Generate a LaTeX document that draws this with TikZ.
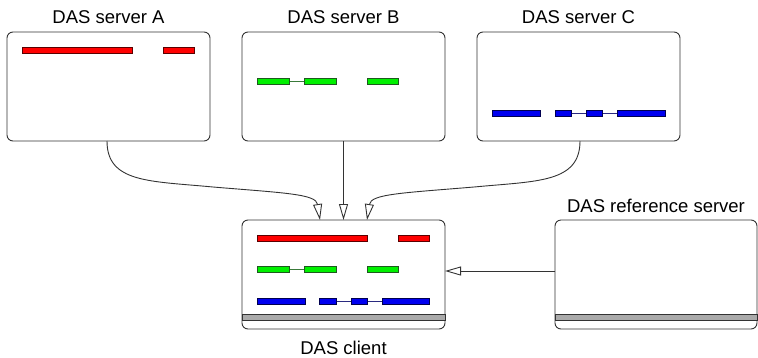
\documentclass[tikz,border=0pt]{standalone}
\usepackage{fontspec}
\setmainfont{Liberation Sans}
\usetikzlibrary{arrows.meta}
\definecolor{edge}{HTML}{333333}
\definecolor{redfill}{HTML}{FF0000}
\definecolor{reddraw}{HTML}{5A0000}
\definecolor{greenfill}{HTML}{00F000}
\definecolor{greendraw}{HTML}{1E5A1E}
\definecolor{greenlink}{HTML}{3A7A3A}
\definecolor{bluefill}{HTML}{0000F0}
\definecolor{bluedraw}{HTML}{000050}
\definecolor{bluelink}{HTML}{2A2A80}
\definecolor{bandfill}{HTML}{AAAAAA}
\tikzset{
  panel/.style={draw=edge, line width=0.9pt, rounded corners=6pt, fill=white,
    minimum width=203pt, minimum height=109pt, inner sep=0pt, outer sep=0pt},
  caption/.style={anchor=base, inner sep=0pt, font=\fontsize{18.5}{22}\selectfont},
  redbar/.style={draw=reddraw, fill=redfill, line width=0.8pt},
  greenbar/.style={draw=greendraw, fill=greenfill, line width=0.8pt},
  bluebar/.style={draw=bluedraw, fill=bluefill, line width=0.8pt},
  greenjoin/.style={draw=greenlink, line width=1pt},
  bluejoin/.style={draw=bluelink, line width=1pt},
  band/.style={draw=edge, fill=bandfill, line width=0.9pt},
  feed/.style={draw=edge, line width=0.9pt,
    -{Triangle[open, length=16pt, width=9pt, fill=white]}},
}
\begin{document}
\begin{tikzpicture}[x=1pt, y=-1pt]
  \useasboundingbox (0,0) rectangle (758,357);

  % panels
  \node[panel] (srvA) at (108.5,86.5) {};
  \node[panel] (srvB) at (343.5,86.5) {};
  \node[panel] (srvC) at (578.5,86.5) {};
  \node[panel] (client) at (343.5,274.5) {};
  \node[panel, minimum width=202pt] (refsrv) at (656,274.5) {};

  % captions
  \node[caption] (capA) at (108.5,23) {DAS server A};
  \node[caption] (capB) at (343.5,23) {DAS server B};
  \node[caption] (capC) at (578.5,23) {DAS server C};
  \node[caption] (capRef) at (656,212) {DAS reference server};
  \node[caption] (capClient) at (343.5,354) {DAS client};

  % server A track
  \draw[redbar] (22,47) rectangle (132,53);
  \draw[redbar] (163,47) rectangle (194,53);

  % server B track
  \draw[greenjoin] (289,81) -- (304,81);
  \draw[greenbar] (257,78) rectangle (289,84);
  \draw[greenbar] (304,78) rectangle (336,84);
  \draw[greenbar] (367,78) rectangle (398,84);

  % server C track
  \draw[bluejoin] (571,113) -- (617,113);
  \draw[bluebar] (492,110) rectangle (540,116);
  \draw[bluebar] (555,110) rectangle (571,116);
  \draw[bluebar] (586,110) rectangle (602,116);
  \draw[bluebar] (617,110) rectangle (665,116);

  % client: combined tracks
  \draw[redbar] (257,235) rectangle (367,241);
  \draw[redbar] (398,235) rectangle (429,241);
  \draw[greenjoin] (289,269.5) -- (304,269.5);
  \draw[greenbar] (257,266.5) rectangle (289,272.5);
  \draw[greenbar] (304,266.5) rectangle (336,272.5);
  \draw[greenbar] (367,266.5) rectangle (398,272.5);
  \draw[bluejoin] (336,301) -- (382,301);
  \draw[bluebar] (257,298) rectangle (305,304);
  \draw[bluebar] (319,298) rectangle (336,304);
  \draw[bluebar] (351,298) rectangle (367,304);
  \draw[bluebar] (382,298) rectangle (429,304);

  % reference bands
  \draw[band] (client.west |- 0,314) rectangle (client.east |- 0,320);
  \draw[band] (refsrv.west |- 0,314) rectangle (refsrv.east |- 0,320);

  % connectors
  \coordinate (tipA) at ([xshift=-23.5pt]client.north);
  \coordinate (tipC) at ([xshift=23.5pt]client.north);
  \coordinate (midA) at (213,187);
  \coordinate (midC) at (474,187);
  \draw[feed] ([xshift=-1.5pt]srvA.south) .. controls (107,183) and (150,181) .. (midA)
    .. controls (285,193) and (316,194) .. (tipA);
  \draw[feed] (srvB.south) -- (client.north);
  \draw[feed] ([xshift=1.5pt]srvC.south) .. controls (580,183) and (537,181) .. (midC)
    .. controls (402,193) and (371,194) .. (tipC);
  \draw[feed] ([yshift=3.5pt]refsrv.west) -- ([yshift=3.5pt]client.east);
\end{tikzpicture}
\end{document}
